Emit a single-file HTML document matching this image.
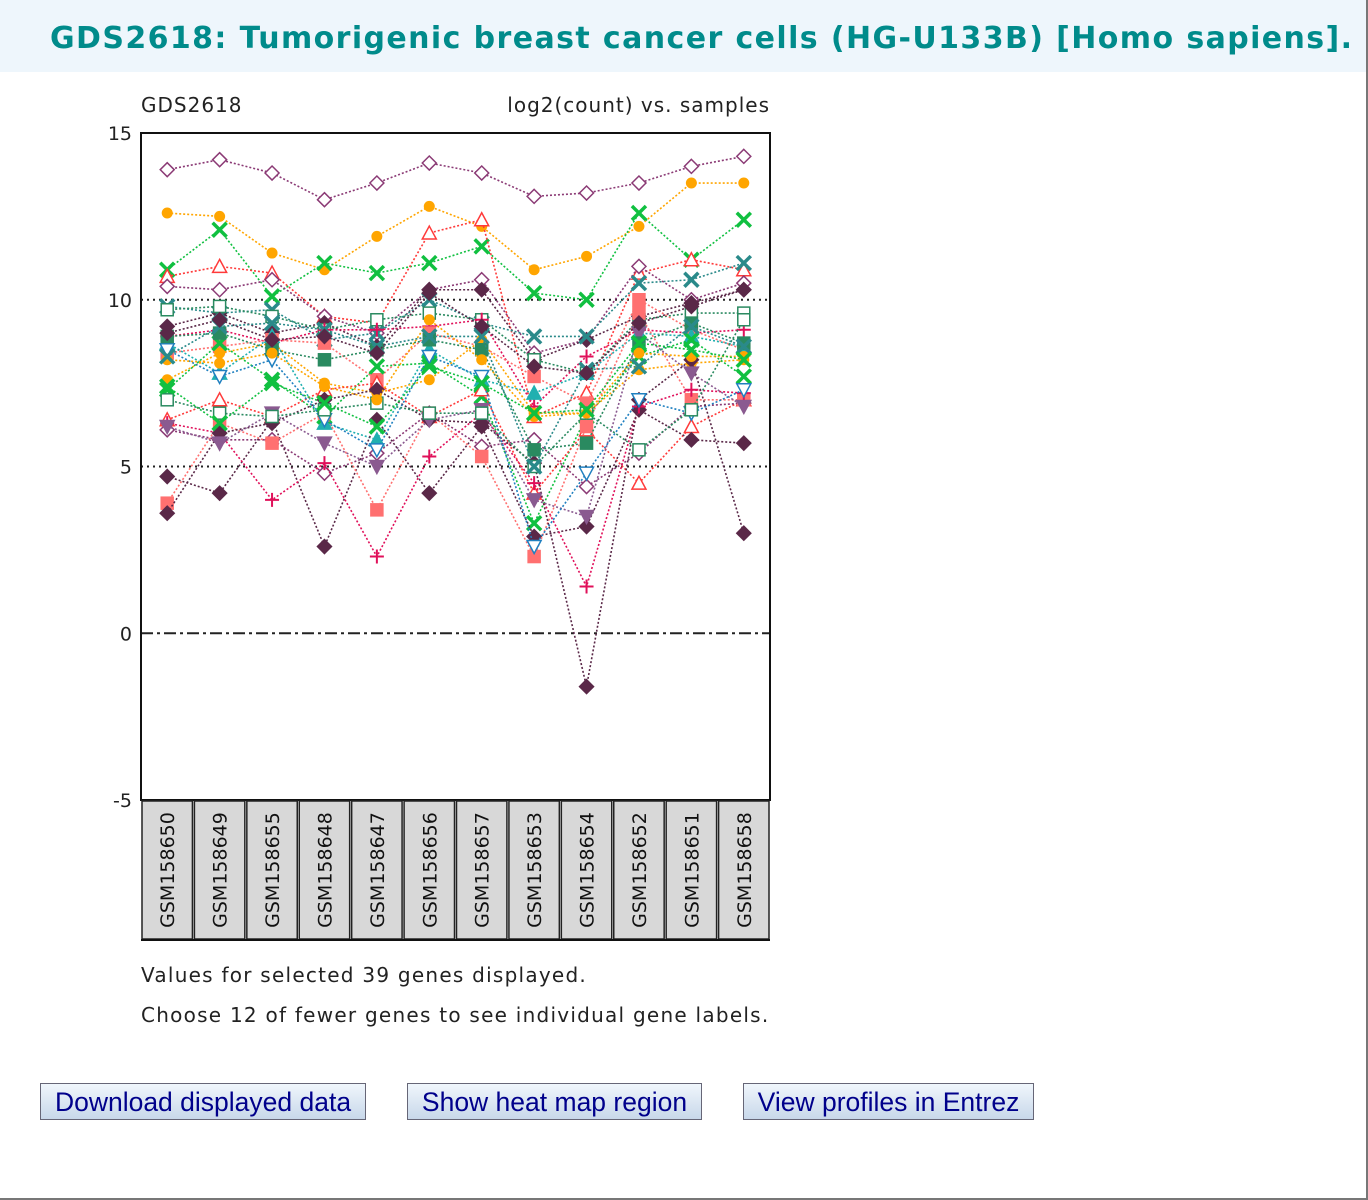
<!DOCTYPE html>
<html><head><meta charset="utf-8">
<style>
body{margin:0;width:1368px;height:1200px;background:#fff;position:relative;overflow:hidden;font-family:"Liberation Sans",sans-serif}
#frame{position:absolute;left:0;top:0;width:1366px;height:1198px;border-right:2px solid #777;border-bottom:2px solid #777}
#hdr{position:absolute;left:0;top:0;width:1366px;height:72px;background:#eef6fc}
#hdr h1{margin:0;position:absolute;left:50px;top:21px;font:bold 30px "DejaVu Sans",sans-serif;color:#008b8b;white-space:nowrap;letter-spacing:1.4px}
.btn{position:absolute;top:1083px;height:37px;border:1px solid #667;background:linear-gradient(#f0f6fc,#c8d8ea);color:#00008b;font:26.5px "Liberation Sans",sans-serif;text-align:center;line-height:37px;box-sizing:border-box}
</style></head><body>
<div id="frame"></div>
<div id="hdr"><h1>GDS2618: Tumorigenic breast cancer cells (HG-U133B) [Homo sapiens].</h1></div>
<svg id="chart" width="1368" height="1060" style="position:absolute;left:0;top:0" font-family="DejaVu Sans, sans-serif"></svg>
<div class="btn" style="left:40px;width:326px">Download displayed data</div>
<div class="btn" style="left:407px;width:295px">Show heat map region</div>
<div class="btn" style="left:743px;width:291px">View profiles in Entrez</div>
<script>
const samples=["GSM158650","GSM158649","GSM158655","GSM158648","GSM158647","GSM158656","GSM158657","GSM158653","GSM158654","GSM158652","GSM158651","GSM158658"];
const yTicks=[15,10,5,0,-5];
const s1=[13.9,14.2,13.8,13.0,13.5,14.1,13.8,13.1,13.2,13.5,14.0,14.3];
const s2=[12.6,12.5,11.4,10.9,11.9,12.8,12.2,10.9,11.3,12.2,13.5,13.5];
const s3=[10.9,12.1,10.1,11.1,10.8,11.1,11.6,10.2,10.0,12.6,11.2,12.4];
const s4=[10.7,11.0,10.8,9.5,9.3,12.0,12.4,6.5,7.2,10.8,11.2,10.9];
const s5=[10.4,10.3,10.6,9.5,9.0,10.3,10.6,8.4,8.8,11.0,10.0,10.5];
const s6=[9.2,9.6,9.0,9.3,8.6,10.3,10.3,8.2,8.8,9.5,9.9,10.3];
const s7=[9.8,9.6,9.7,8.8,9.0,10.0,9.3,8.9,8.9,10.5,10.6,11.1];
const s8=[9.7,9.8,9.5,9.1,9.4,9.6,9.4,8.2,7.8,9.4,9.6,9.6];
const s9=[8.9,9.1,8.7,9.1,9.1,9.2,9.4,6.8,8.3,9.1,9.0,9.1];
const s10=[8.4,8.6,8.8,8.7,7.6,9.0,8.6,7.7,6.9,10.0,9.1,8.5];
const s11=[8.7,7.8,8.9,6.3,5.8,8.5,7.6,7.2,7.8,9.0,8.9,8.6];
const s12=[7.6,8.4,8.7,7.5,7.2,7.6,8.8,6.6,6.6,7.9,8.1,8.2];
const s13=[7.3,8.7,7.6,6.5,8.0,8.1,7.1,3.3,6.5,8.3,8.8,7.7];
const s14=[6.4,7.0,6.5,7.3,7.5,6.5,7.3,4.2,6.1,4.5,6.2,7.0];
const s15=[6.1,5.8,5.8,4.8,5.4,6.6,5.6,5.8,4.4,5.4,6.8,6.9];
const s16=[4.7,4.2,6.4,2.6,6.4,4.2,6.2,2.9,3.2,6.7,5.8,5.7];
const s17=[3.9,6.3,5.7,6.6,3.7,6.6,5.3,2.3,6.2,9.6,7.0,7.0];
const s18=[6.3,6.0,4.0,5.1,2.3,5.3,6.6,4.5,1.4,6.8,7.3,7.2];
const s19=[3.6,6.0,6.3,7.0,7.3,6.4,6.3,5.1,-1.6,7.0,8.2,3.0];
const s20=[6.2,5.7,6.6,5.7,5.0,6.4,6.7,4.0,3.5,9.0,7.8,6.8];
const s21=[8.5,7.7,8.2,6.4,5.5,8.3,7.7,2.6,4.8,7.0,6.6,7.3];
const s22=[7.0,6.6,6.5,6.7,6.9,6.6,6.6,5.0,6.6,5.5,6.7,9.4];
const s23=[8.9,9.0,8.5,8.2,8.5,8.8,8.5,5.5,5.7,8.7,9.3,8.7];
const s24=[8.2,8.1,8.4,7.4,7.0,9.4,8.2,6.5,6.6,8.4,8.3,8.3];
const s25=[8.3,9.2,9.3,9.1,8.6,8.9,8.9,5.0,7.9,8.0,9.2,8.6];
const s26=[9.0,9.4,8.8,8.9,8.4,10.2,9.2,8.0,7.8,9.3,9.8,10.3];
const s27=[7.4,6.3,7.5,6.9,6.2,8.0,7.5,6.6,6.7,8.7,8.5,8.2];
const seriesList=[s1,s2,s3,s4,s5,s6,s7,s8,s9,s10,s11,s12,s13,s14,s15,s16,s17,s18,s19,s20,s21,s22,s23,s24,s25,s26,s27];
const styles=[["#8b3a75","dO"],["#ffa500","cF"],["#10c040","x"],["#ff3a3a","tO"],["#8b3a75","dO"],["#5a2848","dF"],["#2a8a8a","x"],["#2a8a60","sO"],["#e0105a","p"],["#ff7070","sF"],["#20b0b0","tF"],["#ffa500","cF"],["#10c040","x"],["#ff3a3a","tO"],["#8b3a75","dO"],["#5a2848","dF"],["#ff7070","sF"],["#e0105a","p"],["#5a2848","dF"],["#8a5a90","vF"],["#2080c0","vO"],["#2a8a60","sO"],["#2a8a60","sF"],["#ffa500","cF"],["#2a8a8a","x"],["#5a2848","dF"],["#10c040","x"]];
const L=141,R=770,T=133,B=800;
const yMin=-5,yMax=15;
function ys(v){return B-(v-yMin)/(yMax-yMin)*(B-T);}
const colW=(R-L)/samples.length;
function xs(i){return L+colW*(i+0.5);}
const svg=document.getElementById('chart');
const NS='http://www.w3.org/2000/svg';
function mk(tag,attrs,parent){const e=document.createElementNS(NS,tag);for(const k in attrs)e.setAttribute(k,attrs[k]);(parent||svg).appendChild(e);return e;}
let t=mk('text',{x:141,y:112,'font-size':20,fill:'#222','letter-spacing':1});t.textContent='GDS2618';


t=mk('text',{x:770,y:112,'font-size':20,fill:'#222','text-anchor':'end','letter-spacing':1});t.textContent='log2(count) vs. samples';


yTicks.forEach(v=>{
  const y=ys(v);
  const tk=mk('text',{x:132,y:y+7,'font-size':19,fill:'#222','text-anchor':'end'});tk.textContent=v;
  
  
  if(v===10||v===5){const g=mk('line',{x1:L,x2:R,y1:y,y2:y,stroke:'#222','stroke-width':2,'stroke-dasharray':'2,4'});
    
    }
  if(v===0){const g=mk('line',{x1:L,x2:R,y1:y,y2:y,stroke:'#222','stroke-width':2,'stroke-dasharray':'12,4,3,4'});
    
    }
});
function marker(g,type,c,x,y){
  const r=7;
  if(type==='dO'||type==='dF')mk('polygon',{points:`${x},${y-r} ${x+r},${y} ${x},${y+r} ${x-r},${y}`,fill:type==='dF'?c:'#fff',stroke:c,'stroke-width':1.5},g);
  else if(type==='cF')mk('circle',{cx:x,cy:y,r:5.5,fill:c},g);
  else if(type==='x'){mk('path',{d:`M${x-7},${y-7}L${x+7},${y+7}M${x+7},${y-7}L${x-7},${y+7}`,stroke:c,'stroke-width':3.5},g);}
  else if(type==='p'){mk('path',{d:`M${x-7},${y}L${x+7},${y}M${x},${y-7}L${x},${y+7}`,stroke:c,'stroke-width':2},g);}
  else if(type==='tO'||type==='tF')mk('polygon',{points:`${x},${y-7} ${x+7},${y+6} ${x-7},${y+6}`,fill:type==='tF'?c:'#fff',stroke:c,'stroke-width':1.5},g);
  else if(type==='vO'||type==='vF')mk('polygon',{points:`${x},${y+7} ${x+7},${y-6} ${x-7},${y-6}`,fill:type==='vF'?c:'#fff',stroke:c,'stroke-width':1.5},g);
  else if(type==='sO'||type==='sF')mk('rect',{x:x-6,y:y-6,width:12,height:12,fill:type==='sF'?c:'#fff',stroke:c,'stroke-width':1.5},g);
}
seriesList.forEach((s,k)=>{
  const [c,type]=styles[k];
  const g=mk('g',{});
  
  
  const pts=s.map((v,i)=>xs(i)+','+ys(v)).join(' ');
  mk('polyline',{points:pts,fill:'none',stroke:c,'stroke-width':1.6,'stroke-dasharray':'2,2'},g);
  s.forEach((v,i)=>marker(g,type,c,xs(i),ys(v)));
});
const frame=mk('rect',{x:L,y:T,width:R-L,height:B-T,fill:'none',stroke:'#111','stroke-width':2});


samples.forEach((s,i)=>{
  const x0=L+colW*i;
  const bx=mk('rect',{x:x0+1,y:B+1,width:colW-2,height:138,fill:'#d8d8d8',stroke:'#222','stroke-width':1.5});
  
  
  const tl=mk('text',{x:0,y:0,'font-size':19,fill:'#111','text-anchor':'middle',transform:`translate(${xs(i)+7},${B+70}) rotate(-90)`});
  tl.textContent=s;
  
  
});
const bl=mk('line',{x1:L,x2:R,y1:B+140,y2:B+140,stroke:'#111','stroke-width':2});


t=mk('text',{x:141,y:982,'font-size':20,fill:'#222','letter-spacing':1.25});t.textContent='Values for selected 39 genes displayed.';


t=mk('text',{x:141,y:1022,'font-size':20,fill:'#222','letter-spacing':1.25});t.textContent='Choose 12 of fewer genes to see individual gene labels.';


</script>
</body></html>
